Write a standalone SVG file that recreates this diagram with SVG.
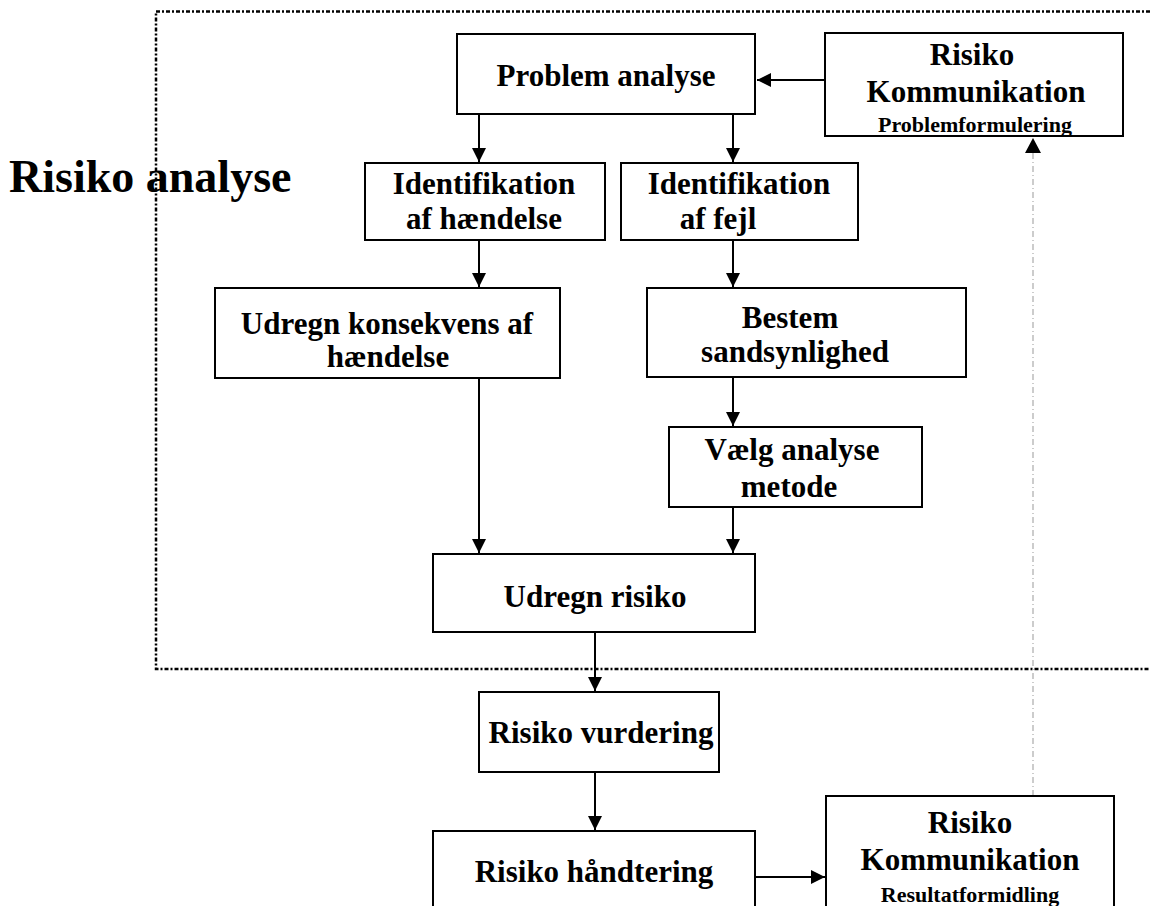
<svg xmlns="http://www.w3.org/2000/svg" width="1150" height="906" viewBox="0 0 1150 906">
<style>
.box{fill:#fff;stroke:#000;stroke-width:2}
.t{font-family:"Liberation Serif","Times New Roman",serif;font-weight:bold;font-size:31px;fill:#000;text-anchor:middle}
.s{font-size:22px}
.big{font-size:46px;text-anchor:start}
.c{fill:none;stroke:#000;stroke-width:2}
.frame{fill:none;stroke:#000;stroke-width:2.5;stroke-dasharray:4 2 2 2}
.dot{fill:none;stroke:#999;stroke-width:1;stroke-dasharray:6 3 1 3}
</style>
<defs>
<marker id="ah" markerUnits="userSpaceOnUse" markerWidth="16" markerHeight="16" viewBox="0 0 16 16" refX="15" refY="8" orient="auto">
<path d="M1,1 L15,8 L1,15 Z" fill="#000"/>
</marker>
</defs>
<rect width="1150" height="906" fill="#fff"/>
<g id="frame">
<path class="frame" d="M1150,11.5 H156 V669 H1150"/>
</g>
<g id="label"><text class="t big" x="9" y="192">Risiko analyse</text></g>
<g id="connectors">
<path class="c" d="M825,80 H757" marker-end="url(#ah)"/>
<path class="c" d="M479,114 V162" marker-end="url(#ah)"/>
<path class="c" d="M733,114 V162" marker-end="url(#ah)"/>
<path class="c" d="M479,240 V287" marker-end="url(#ah)"/>
<path class="c" d="M733,240 V287" marker-end="url(#ah)"/>
<path class="c" d="M733,377 V426" marker-end="url(#ah)"/>
<path class="c" d="M479,378 V553" marker-end="url(#ah)"/>
<path class="c" d="M733,507 V553" marker-end="url(#ah)"/>
<path class="c" d="M595,632 V691" marker-end="url(#ah)"/>
<path class="c" d="M595,772 V830" marker-end="url(#ah)"/>
<path class="c" d="M756,877 H825" marker-end="url(#ah)"/>
<path class="dot" d="M1033,796 V152"/>
<path d="M1025,153 L1033,138 L1041,153 Z" fill="#000"/>
</g>
<g id="n-problem"><rect class="box" x="457" y="34" width="298" height="80"/><text class="t" x="606" y="86">Problem analyse</text></g>
<g id="n-komm1"><rect class="box" x="825" y="33" width="298" height="103"/><text class="t" x="972" y="65">Risiko</text><text class="t" x="976" y="102">Kommunikation</text><text class="t s" x="975" y="132">Problemformulering</text></g>
<g id="n-idh"><rect class="box" x="365" y="163" width="240" height="77"/><text class="t" x="484" y="194">Identifikation</text><text class="t" x="484" y="229">af hændelse</text></g>
<g id="n-idf"><rect class="box" x="621" y="163" width="237" height="77"/><text class="t" x="739" y="194">Identifikation</text><text class="t" x="718" y="229">af fejl</text></g>
<g id="n-kons"><rect class="box" x="215" y="288" width="345" height="90"/><text class="t" x="387" y="334">Udregn konsekvens af</text><text class="t" x="388" y="367">hændelse</text></g>
<g id="n-best"><rect class="box" x="647" y="288" width="319" height="89"/><text class="t" x="790" y="328">Bestem</text><text class="t" x="795" y="362">sandsynlighed</text></g>
<g id="n-vaelg"><rect class="box" x="669" y="427" width="253" height="80"/><text class="t" x="792" y="460">Vælg analyse</text><text class="t" x="789" y="497">metode</text></g>
<g id="n-risiko"><rect class="box" x="433" y="554" width="322" height="78"/><text class="t" x="595" y="607">Udregn risiko</text></g>
<g id="n-vurd"><rect class="box" x="479" y="692" width="240" height="80"/><text class="t" x="601" y="743">Risiko vurdering</text></g>
<g id="n-haand"><rect class="box" x="433" y="831" width="322" height="100"/><text class="t" x="594" y="882">Risiko håndtering</text></g>
<g id="n-komm2"><rect class="box" x="826" y="796" width="288" height="130"/><text class="t" x="970" y="833">Risiko</text><text class="t" x="970" y="870">Kommunikation</text><text class="t s" x="970" y="902">Resultatformidling</text></g>
</svg>
